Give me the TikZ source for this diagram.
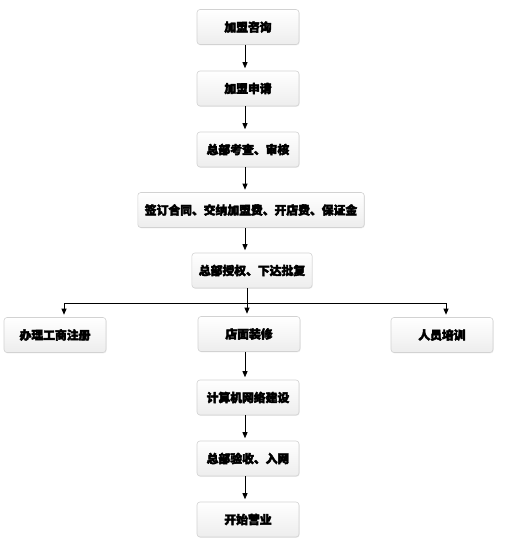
\documentclass[tikz,border=0pt]{standalone}
\usepackage{fontspec}
\newfontfamily\cjk[FakeBold=3.5]{Noto Sans CJK SC}
\usetikzlibrary{positioning,arrows.meta,shadows}
\tikzset{
  stepbox/.style={draw=gray!35, line width=0.6pt, rounded corners=3pt,
    top color=white, bottom color=gray!14,
    drop shadow={shadow xshift=0.6pt, shadow yshift=-0.8pt, opacity=0.15},
    minimum width=102pt, minimum height=35pt, inner xsep=7pt,
    font=\cjk\fontsize{11.8}{14}\selectfont\bfseries},
  flow/.style={-{Triangle[length=6pt,width=5pt]}, line width=0.8pt, shorten >=2.5pt}
}
\begin{document}
\begin{tikzpicture}[x=1pt,y=-1pt]
	\useasboundingbox (0,0) rectangle (508,545);

	% main chain
	\node[stepbox] (c1) at (248,27) {加盟咨询};
	\node[stepbox] (c2) at (248,88.5) {加盟申请};
	\node[stepbox] (c3) at (248,149.5) {总部考查、审核};
	\node[stepbox] (c4) at (251,210) {签订合同、交纳加盟费、开店费、保证金};
	\node[stepbox] (c5) at (252,270.5) {总部授权、下达批复};

	% three branches
	\node[stepbox] (reg) at (55,335) {办理工商注册};
	\node[stepbox] (shop) at (249,334) {店面装修};
	\node[stepbox] (staff) at (442,335) {人员培训};

	\node[stepbox] (c7) at (248,397.5) {计算机网络建设};
	\node[stepbox] (c8) at (248,458.5) {总部验收、入网};
	\node[stepbox] (c9) at (248,519.5) {开始营业};

	\coordinate (split) at (247,303);

	\draw[flow] (c1.south -| 245,0) -- (c2.north -| 245,0);
	\draw[flow] (c2.south -| 245,0) -- (c3.north -| 245,0);
	\draw[flow] (c3.south -| 245,0) -- (c4.north -| 245,0);
	\draw[flow] (c4.south -| 245,0) -- (c5.north -| 245,0);

	\draw[line width=0.8pt] (c5.south -| split) -- (split);
	\draw[line width=0.8pt] (split -| 64,0) -- (split -| 446,0);
	\draw[flow] (split -| 64,0) -- (reg.north -| 64,0);
	\draw[flow] (split) -- (shop.north -| split);
	\draw[flow] (split -| 446,0) -- (staff.north -| 446,0);

	\draw[flow] (shop.south -| 245,0) -- (c7.north -| 245,0);
	\draw[flow] (c7.south -| 245,0) -- (c8.north -| 245,0);
	\draw[flow] (c8.south -| 245,0) -- (c9.north -| 245,0);
\end{tikzpicture}
\end{document}
